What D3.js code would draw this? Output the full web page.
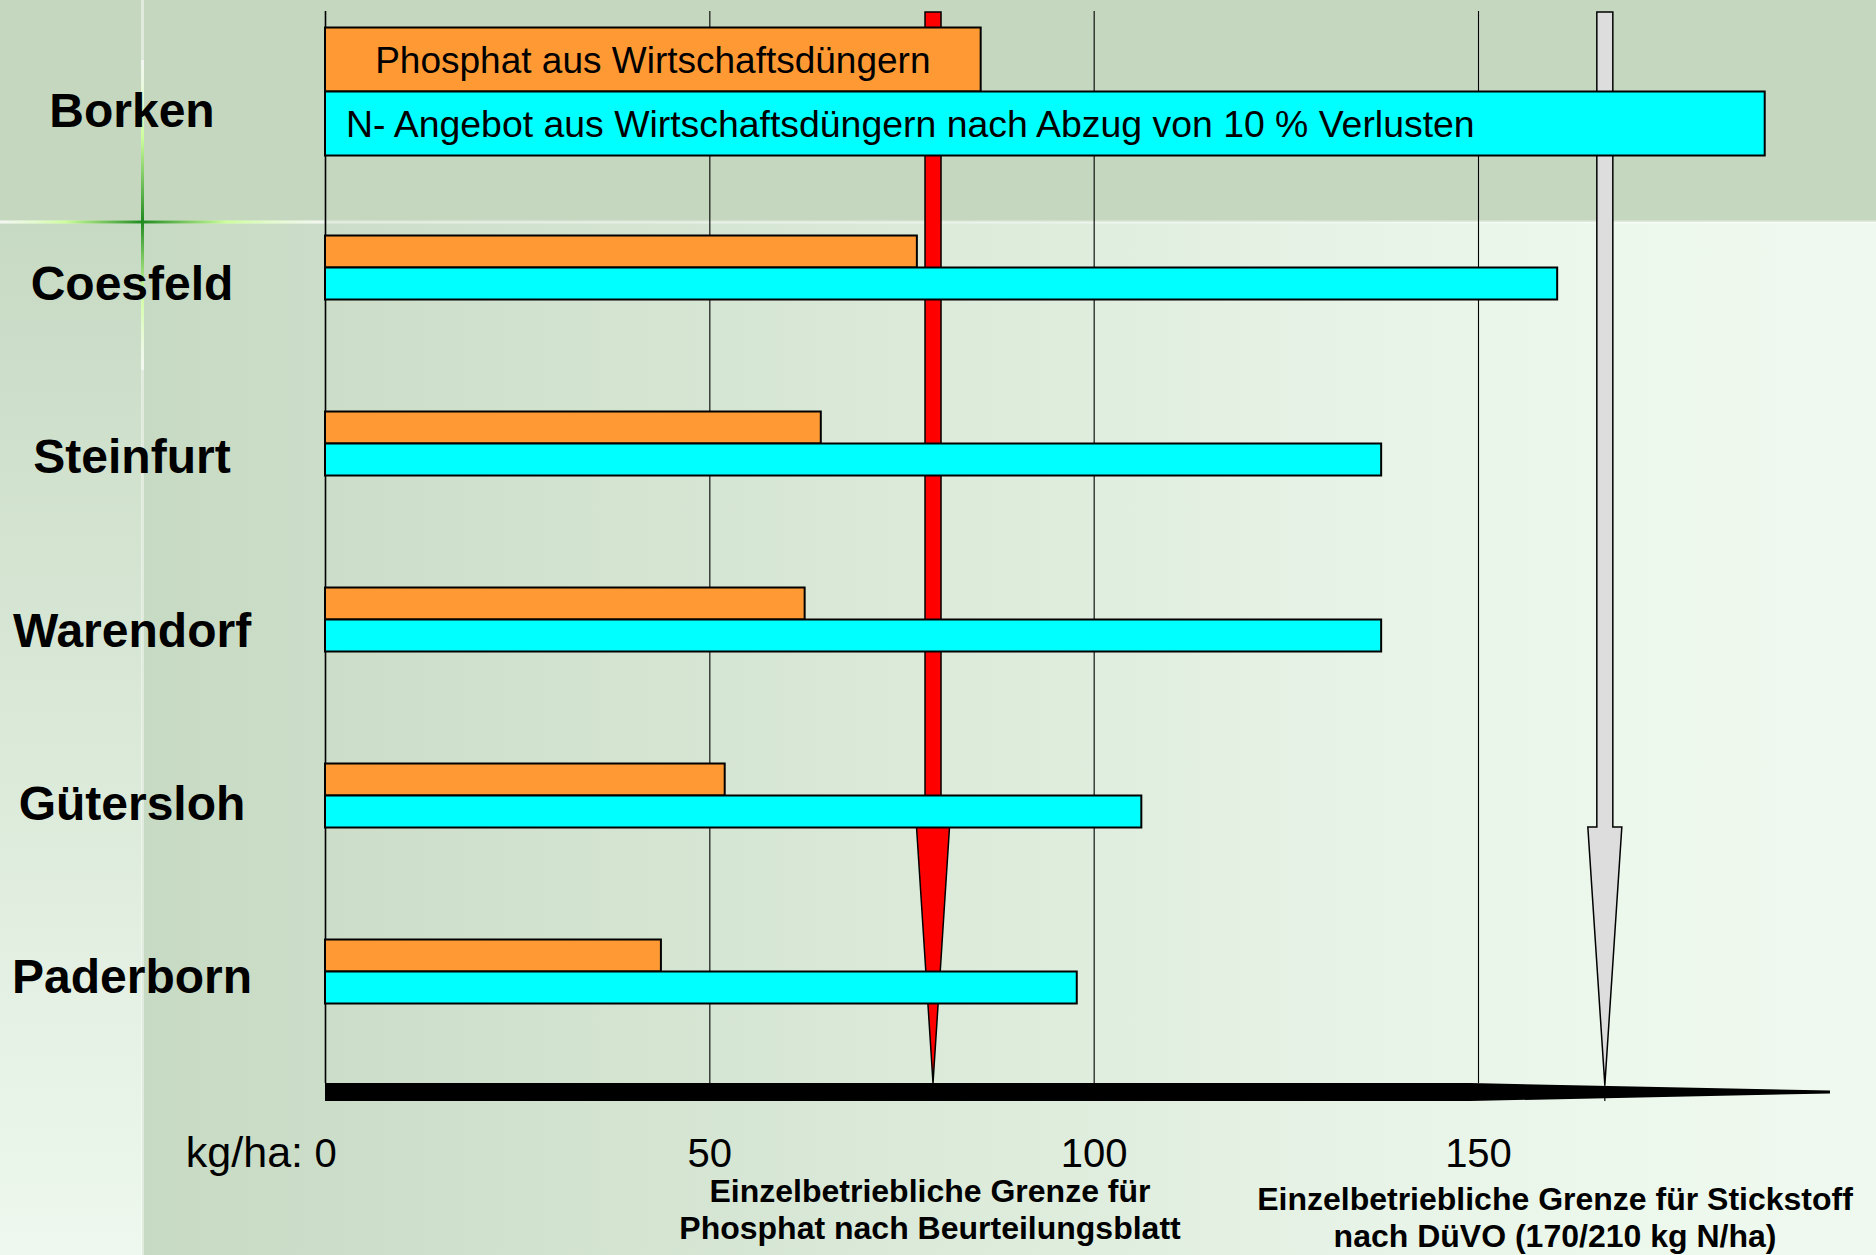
<!DOCTYPE html>
<html>
<head>
<meta charset="utf-8">
<script src="https://cdn.jsdelivr.net/npm/d3@7"></script>
<style>
  html, body { margin: 0; padding: 0; background: #c5d7bf; }
  svg { display: block; }
</style>
</head>
<body>
<svg id="chart" width="1876" height="1255"></svg>
<script>
// ---------- data ----------
const categories = ["Borken", "Coesfeld", "Steinfurt", "Warendorf", "Gütersloh", "Paderborn"];
const phosphat   = [85.3, 77.0, 64.5, 62.4, 52.0, 43.7];
const stickstoff = [187.3, 160.3, 137.4, 137.4, 106.2, 97.8];
const seriesNames = ["Phosphat aus Wirtschaftsdüngern",
                     "N- Angebot aus Wirtschaftsdüngern nach Abzug von 10 % Verlusten"];
const tickValues = [0, 50, 100, 150];
const unitLabel = "kg/ha:";
const phosphatLimit = 79.1;
const stickstoffLimit = 166.5;
const phosphatLimitLabel = ["Einzelbetriebliche Grenze für", "Phosphat nach Beurteilungsblatt"];
const stickstoffLimitLabel = ["Einzelbetriebliche Grenze für Stickstoff", "nach DüVO (170/210 kg N/ha)"];

// ---------- setup ----------
const W = 1876, H = 1255;
const FONT = "'Liberation Sans', Arial, Helvetica, sans-serif";
const svg = d3.select("#chart");
const defs = svg.append("defs");

const x = d3.scaleLinear().domain([0, 150]).range([325, 1478]);
const rowY = d3.scalePoint().domain(categories).range([91.5, 971.5]);
const labelY = d3.scalePoint().domain(categories).range([110, 976]);
const plotTop = 11, axisY = 1083;

// ---------- background ----------
function linGrad(id, x1, y1, x2, y2, stops) {
  const g = defs.append("linearGradient").attr("id", id)
    .attr("x1", x1).attr("y1", y1).attr("x2", x2).attr("y2", y2);
  stops.forEach(s => g.append("stop").attr("offset", s[0]).attr("stop-color", s[1])
    .attr("stop-opacity", s[2] === undefined ? 1 : s[2]));
}
linGrad("bgMain", 0, 0, 1, 0, [[0, "#c7dac3"], [0.85, "#edf8ed"], [1, "#eff9ef"]]);
linGrad("bgLeft", 0, 0, 0, 1, [[0, "#c7dac3"], [1, "#eef8ee"]]);
linGrad("crossH", 0, 0, 1, 0, [[0, "#ffffff", 0.6], [0.2, "#ccff99", 0.95], [0.44, "#1f8a1f", 1], [0.7, "#ccff99", 0.95], [1, "#ffffff", 0.6]]);
linGrad("crossV", 0, 0, 0, 1, [[0, "#ffffff", 0.6], [0.25, "#ccff99", 0.95], [0.52, "#1f8a1f", 1], [0.75, "#ccff99", 0.95], [1, "#ffffff", 0.6]]);

svg.append("rect").attr("x", 0).attr("y", 0).attr("width", W).attr("height", 222).attr("fill", "#c5d7bf");
svg.append("rect").attr("x", 142).attr("y", 222).attr("width", W - 142).attr("height", H - 222).attr("fill", "url(#bgMain)");
svg.append("rect").attr("x", 0).attr("y", 222).attr("width", 142).attr("height", H - 222).attr("fill", "url(#bgLeft)");
// faint white lines
svg.append("rect").attr("x", 0).attr("y", 220.5).attr("width", W).attr("height", 3).attr("fill", "#ffffff").attr("opacity", 0.45);
svg.append("rect").attr("x", 141).attr("y", 0).attr("width", 3).attr("height", H).attr("fill", "#ffffff").attr("opacity", 0.45);
// green cross
svg.append("rect").attr("x", 0).attr("y", 220.5).attr("width", 324).attr("height", 3).attr("fill", "url(#crossH)");
svg.append("rect").attr("x", 141).attr("y", 60).attr("width", 3).attr("height", 310).attr("fill", "url(#crossV)");

// ---------- gridlines + tick labels ----------
const axisG = svg.append("g").attr("transform", `translate(0,${axisY})`)
  .call(d3.axisBottom(x).tickValues(tickValues).tickSizeInner(-(axisY - plotTop)).tickSizeOuter(0)
        .tickFormat(d3.format("d")));
axisG.select(".domain").remove();
axisG.selectAll(".tick line").attr("stroke", "#000").attr("stroke-width", (d) => d === 0 ? 1.6 : 1.1);
axisG.selectAll(".tick text")
  .attr("y", 84).attr("dy", null)
  .attr("fill", "#000").attr("font-family", FONT).attr("font-size", 40);
axisG.attr("font-family", null).attr("font-size", null);
svg.append("text").attr("x", x(0) - 22).attr("y", axisY + 84)
  .attr("text-anchor", "end").attr("font-family", FONT).attr("font-size", 43).attr("fill", "#000")
  .text(unitLabel);

// ---------- limit arrows ----------
function arrowPath(cx, top, headY, tipY, shaftW, headW) {
  const s = shaftW / 2, h = headW / 2;
  return `M${cx - s},${top} L${cx + s},${top} L${cx + s},${headY} L${cx + h},${headY} L${cx},${tipY} L${cx - h},${headY} L${cx - s},${headY} Z`;
}
svg.append("path").attr("d", arrowPath(x(phosphatLimit), 12, 827, axisY, 16, 33))
  .attr("fill", "#ff0000").attr("stroke", "#000").attr("stroke-width", 1.5).attr("stroke-linejoin", "miter");
svg.append("path").attr("d", arrowPath(x(stickstoffLimit), 12, 827, 1085, 16, 34))
  .attr("fill", "#dddddd").attr("stroke", "#000").attr("stroke-width", 1.5).attr("stroke-linejoin", "miter");

// ---------- bars ----------
const rows = categories.map((c, i) => ({ cat: c, p: phosphat[i], n: stickstoff[i], h: i === 0 ? 64 : 32 }));
const barG = svg.append("g");
barG.selectAll("rect.p").data(rows).join("rect").attr("class", "p")
  .attr("x", x(0)).attr("y", d => rowY(d.cat) - d.h)
  .attr("width", d => x(d.p) - x(0)).attr("height", d => d.h)
  .attr("fill", "#ff9933").attr("stroke", "#000").attr("stroke-width", 2);
barG.selectAll("rect.n").data(rows).join("rect").attr("class", "n")
  .attr("x", x(0)).attr("y", d => rowY(d.cat))
  .attr("width", d => x(d.n) - x(0)).attr("height", d => d.h)
  .attr("fill", "#00ffff").attr("stroke", "#000").attr("stroke-width", 2);

// series names inside the first (legend) row
const first = rows[0];
svg.append("text").attr("x", (x(0) + x(first.p)) / 2).attr("y", rowY(first.cat) - first.h / 2 + 13.5)
  .attr("text-anchor", "middle").attr("font-family", FONT).attr("font-size", 37).attr("fill", "#000")
  .text(seriesNames[0]);
svg.append("text").attr("x", x(0) + 21).attr("y", rowY(first.cat) + first.h / 2 + 13.5)
  .attr("text-anchor", "start").attr("font-family", FONT).attr("font-size", 37.4).attr("fill", "#000")
  .text(seriesNames[1]);

// ---------- category labels ----------
svg.append("g").selectAll("text").data(categories).join("text")
  .attr("x", 132).attr("y", d => labelY(d) + 17)
  .attr("text-anchor", "middle").attr("font-family", FONT).attr("font-weight", "bold")
  .attr("font-size", 48).attr("fill", "#000").text(d => d);

// ---------- axis bar (black, tapered) ----------
const barEnd = 1470, tipX = 1830;
svg.append("path")
  .attr("d", `M${x(0)},${axisY} L${barEnd},${axisY} L${tipX},${axisY + 7.5} L${tipX},${axisY + 10.5} L${barEnd},${axisY + 18} L${x(0)},${axisY + 18} Z`)
  .attr("fill", "#000");
svg.append("line").attr("x1", x(stickstoffLimit)).attr("x2", x(stickstoffLimit))
  .attr("y1", 1085).attr("y2", 1101).attr("stroke", "#000").attr("stroke-width", 1.2);

// ---------- limit labels ----------
svg.append("text").attr("text-anchor", "middle").attr("font-family", FONT).attr("font-weight", "bold")
  .attr("font-size", 32).attr("fill", "#000")
  .selectAll("tspan").data(phosphatLimitLabel).join("tspan")
  .attr("x", x(phosphatLimit) - 3).attr("y", (d, i) => 1202 + i * 37).text(d => d);
svg.append("text").attr("text-anchor", "middle").attr("font-family", FONT).attr("font-weight", "bold")
  .attr("font-size", 32).attr("fill", "#000")
  .selectAll("tspan").data(stickstoffLimitLabel).join("tspan")
  .attr("x", 1555).attr("y", (d, i) => 1210 + i * 37).text(d => d);
</script>
</body>
</html>
